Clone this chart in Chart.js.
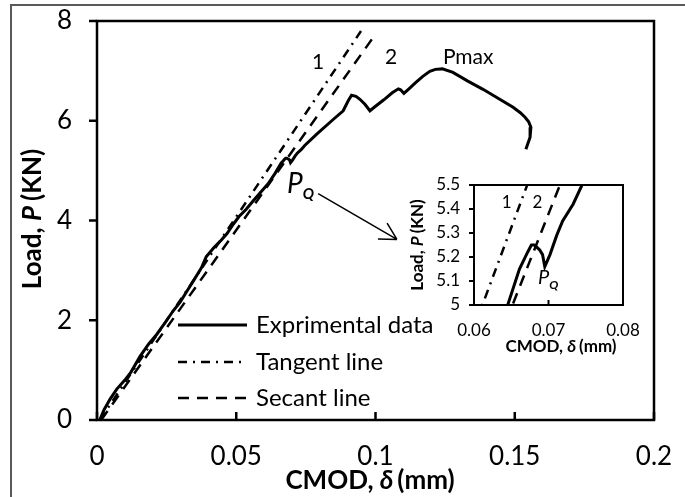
<!DOCTYPE html>
<html>
<head>
<meta charset="utf-8">
<script src="https://cdn.jsdelivr.net/npm/chart.js@4.4.0/dist/chart.umd.min.js"></script>
<style>
    html, body { margin: 0; padding: 0; background: #fff; }
    #wrap { position: relative; width: 685px; height: 497px; overflow: hidden; }
    #main { position: absolute; left: 0; top: 0; }
    #inset { position: absolute; left: 400px; top: 170px; }
</style>
</head>
<body>
<div id="wrap">
    <canvas id="main" width="685" height="497"></canvas>
    <canvas id="inset" width="240" height="190"></canvas>
</div>
<script>
const expCmod = [0.001, 0.0025, 0.0047, 0.0071, 0.0100, 0.0122, 0.0154, 0.0185, 0.0215, 0.0248,
    0.0275, 0.0298, 0.0325, 0.0345, 0.0375, 0.0392, 0.0420, 0.0445, 0.0467, 0.0490,
    0.0510, 0.0535, 0.0562, 0.0590, 0.0615, 0.0640, 0.0661, 0.0672, 0.0677, 0.0681,
    0.0688, 0.0692, 0.0695, 0.0702, 0.0711, 0.0719, 0.0733, 0.0745, 0.0789, 0.0849,
    0.0884, 0.0902, 0.0914, 0.0930, 0.0944, 0.0962, 0.0980, 0.1000, 0.1030, 0.1060,
    0.1082, 0.1090, 0.1102, 0.1120, 0.1145, 0.1170, 0.1195, 0.1215, 0.1240, 0.1278,
    0.1330, 0.1386, 0.1440, 0.1494, 0.1520, 0.1537, 0.1550, 0.1558, 0.1555, 0.1540];
const expLoad = [0, 0.2, 0.42, 0.62, 0.80, 0.96, 1.27, 1.52, 1.72, 1.98,
    2.2, 2.36, 2.6, 2.78, 3.05, 3.27, 3.46, 3.6, 3.74, 3.93,
    4.08, 4.22, 4.40, 4.58, 4.74, 4.95, 5.15, 5.22, 5.25, 5.25,
    5.23, 5.21, 5.16, 5.21, 5.29, 5.35, 5.42, 5.5, 5.73, 6.03,
    6.2, 6.4, 6.51, 6.49, 6.43, 6.33, 6.2, 6.29, 6.42, 6.56,
    6.64, 6.62, 6.55, 6.64, 6.77, 6.89, 6.99, 7.03, 7.04, 6.97,
    6.8, 6.63, 6.45, 6.27, 6.16, 6.07, 5.98, 5.87, 5.67, 5.43];
const tangentCmod = [0.001, 0.0948];
const tangentLoad = [0, 7.8];
const secantCmod = [0.0015, 0.0998];
const secantLoad = [0, 7.72];
const seriesNames = ['Exprimental data', 'Tangent line', 'Secant line'];
const mainXTicks = [0, 0.05, 0.1, 0.15, 0.2];
const mainYTicks = [0, 2, 4, 6, 8];
const insetXTicks = [0.06, 0.07, 0.08];
const insetYTicks = [5, 5.1, 5.2, 5.3, 5.4, 5.5];

const FONT = 'Lato, "Open Sans", sans-serif';
Chart.defaults.font.family = FONT;
Chart.defaults.color = '#000';

function buildDatasets() {
    const toPoints = (xs, ys) => xs.map((x, i) => ({ x, y: ys[i] }));
    return [
        { label: seriesNames[0], data: toPoints(expCmod, expLoad), borderColor: '#000', borderWidth: 3, borderDash: [] },
        { label: seriesNames[1], data: toPoints(tangentCmod, tangentLoad), borderColor: '#000', borderWidth: 2.5, borderDash: [9, 6, 2, 6] },
        { label: seriesNames[2], data: toPoints(secantCmod, secantLoad), borderColor: '#000', borderWidth: 2.5, borderDash: [11, 8] }
    ];
}

// fixed axis sizes, no extra room for overflowing end labels
function scaleOptions(tickValues, fontSize, padding, size) {
    return {
        type: 'linear',
        min: tickValues[0],
        max: tickValues[tickValues.length - 1],
        afterBuildTicks: s => { s.ticks = tickValues.map(v => ({ value: v })); },
        afterFit: s => {
            if (s.isHorizontal()) {
                s.height = size;
                s.paddingLeft = 0;
                s.paddingRight = 0;
            } else {
                s.width = size;
                s.paddingTop = 0;
                s.paddingBottom = 0;
            }
        },
        ticks: {
            font: { size: fontSize },
            color: '#000',
            padding: padding,
            maxRotation: 0,
            autoSkip: false,
            callback: v => String(v)
        },
        grid: { display: false, drawTicks: false },
        border: { display: false }
    };
}

function drawRich(ctx, parts, x, y) {
    let total = 0;
    parts.forEach(p => {
        ctx.font = p.font;
        total += ctx.measureText(p.text).width + (p.gap || 0);
    });
    let cx = x - total / 2;
    ctx.textAlign = 'left';
    ctx.textBaseline = 'middle';
    parts.forEach(p => {
        ctx.font = p.font;
        ctx.fillText(p.text, cx, y + (p.dy || 0));
        cx += ctx.measureText(p.text).width + (p.gap || 0);
    });
}

function drawRotated(ctx, parts, x, y) {
    ctx.save();
    ctx.translate(x, y);
    ctx.rotate(-Math.PI / 2);
    drawRich(ctx, parts, 0, 0);
    ctx.restore();
}

function drawBoxAndTicks(chart, lineWidth, tickLen) {
    const { ctx, chartArea: a, scales: { x, y } } = chart;
    ctx.strokeStyle = '#000';
    ctx.lineWidth = lineWidth;
    ctx.setLineDash([]);
    ctx.strokeRect(a.left, a.top, a.right - a.left, a.bottom - a.top);
    ctx.beginPath();
    y.ticks.forEach(t => {
        const py = y.getPixelForValue(t.value);
        ctx.moveTo(a.left - tickLen, py);
        ctx.lineTo(a.left, py);
    });
    x.ticks.forEach(t => {
        const px = x.getPixelForValue(t.value);
        ctx.moveTo(px, a.bottom);
        ctx.lineTo(px, a.bottom - tickLen);
    });
    ctx.stroke();
}

function drawPQ(ctx, px, py, pSize, qSize) {
    ctx.textAlign = 'left';
    ctx.textBaseline = 'middle';
    ctx.font = `italic ${pSize}px ${FONT}`;
    ctx.fillText('P', px, py);
    const w = ctx.measureText('P').width;
    ctx.font = `italic bold ${qSize}px ${FONT}`;
    ctx.fillText('Q', px + w, py + pSize * 0.38);
}

const mainDecor = {
    id: 'mainDecor',
    afterDraw(chart) {
        const { ctx, scales: { x, y } } = chart;
        ctx.save();

        ctx.fillStyle = '#595959';
        ctx.fillRect(10, 4, 675, 2);
        ctx.fillRect(10, 4, 2, 493);

        drawBoxAndTicks(chart, 2.5, 8);

        ctx.fillStyle = '#000';
        const bold = `bold 26px ${FONT}`;
        const boldIt = `italic bold 26px ${FONT}`;
        drawRich(ctx, [
            { text: 'CMOD, ', font: bold },
            { text: 'δ', font: boldIt, gap: 4 },
            { text: '(mm)', font: bold }
        ], 370, 481);
        drawRotated(ctx, [
            { text: 'Load, ', font: bold },
            { text: 'P', font: boldIt, gap: 5 },
            { text: '(KN)', font: bold }
        ], 33, 219);

        // line labels and peak
        ctx.font = `21px ${FONT}`;
        ctx.textAlign = 'center';
        ctx.textBaseline = 'middle';
        ctx.fillText('1', x.getPixelForValue(0.0794), y.getPixelForValue(7.18));
        ctx.fillText('2', x.getPixelForValue(0.1056), y.getPixelForValue(7.28));
        ctx.textAlign = 'left';
        ctx.fillText('Pmax', x.getPixelForValue(0.1242), y.getPixelForValue(7.28));

        drawPQ(ctx, x.getPixelForValue(0.0682), y.getPixelForValue(4.74), 28, 15);

        // arrow to the inset
        const x0 = x.getPixelForValue(0.0794), y0 = y.getPixelForValue(4.54);
        const x1 = x.getPixelForValue(0.1077), y1 = y.getPixelForValue(3.62);
        const ang = Math.atan2(y1 - y0, x1 - x0);
        ctx.beginPath();
        ctx.moveTo(x0, y0);
        ctx.lineTo(x1, y1);
        [-0.5, 0.5].forEach(d => {
            ctx.moveTo(x1, y1);
            ctx.lineTo(x1 - 19 * Math.cos(ang + d), y1 - 19 * Math.sin(ang + d));
        });
        ctx.lineWidth = 1.5;
        ctx.stroke();

        // legend
        const rows = [325, 362, 398];
        chart.data.datasets.forEach((ds, i) => {
            ctx.beginPath();
            ctx.setLineDash(ds.borderDash);
            ctx.lineWidth = ds.borderWidth;
            ctx.moveTo(178, rows[i]);
            ctx.lineTo(247, rows[i]);
            ctx.stroke();
            ctx.setLineDash([]);
            ctx.font = `24px ${FONT}`;
            ctx.textAlign = 'left';
            ctx.textBaseline = 'middle';
            ctx.fillText(ds.label, 256, rows[i]);
        });

        ctx.restore();
    }
};

const insetDecor = {
    id: 'insetDecor',
    afterDraw(chart) {
        const { ctx, scales: { x, y } } = chart;
        ctx.save();
        drawBoxAndTicks(chart, 2, 5);

        ctx.fillStyle = '#000';
        const bold = `bold 17px ${FONT}`;
        const boldIt = `italic bold 17px ${FONT}`;
        drawRich(ctx, [
            { text: 'CMOD, ', font: bold },
            { text: 'δ', font: boldIt, gap: 3 },
            { text: '(mm)', font: bold }
        ], 161, 177);
        drawRotated(ctx, [
            { text: 'Load, ', font: bold },
            { text: 'P', font: boldIt, gap: 3 },
            { text: '(KN)', font: bold }
        ], 18, 75);

        ctx.font = `17px ${FONT}`;
        ctx.textAlign = 'center';
        ctx.textBaseline = 'middle';
        ctx.fillText('1', x.getPixelForValue(0.0644), y.getPixelForValue(5.425));
        ctx.fillText('2', x.getPixelForValue(0.0685), y.getPixelForValue(5.425));
        drawPQ(ctx, x.getPixelForValue(0.0686), y.getPixelForValue(5.115), 20, 12);
        ctx.restore();
    }
};

new Chart(document.getElementById('main'), {
    type: 'line',
    data: { datasets: buildDatasets() },
    options: {
        responsive: false,
        animation: false,
        layout: { padding: { top: 21, right: 31, left: 0, bottom: 0 } },
        elements: { point: { radius: 0 }, line: { tension: 0, borderCapStyle: 'butt' } },
        plugins: { legend: { display: false }, tooltip: { enabled: false } },
        scales: {
            x: scaleOptions(mainXTicks, 26, 21, 77),
            y: scaleOptions(mainYTicks, 26, 25, 97)
        }
    },
    plugins: [mainDecor]
});

new Chart(document.getElementById('inset'), {
    type: 'line',
    data: { datasets: buildDatasets() },
    options: {
        responsive: false,
        animation: false,
        layout: { padding: { top: 15, right: 17, left: 0, bottom: 0 } },
        elements: { point: { radius: 0 }, line: { tension: 0, borderCapStyle: 'butt' } },
        plugins: { legend: { display: false }, tooltip: { enabled: false } },
        scales: {
            x: scaleOptions(insetXTicks, 17, 15, 55),
            y: scaleOptions(insetYTicks, 17, 14, 74)
        }
    },
    plugins: [insetDecor]
});
</script>
</body>
</html>
